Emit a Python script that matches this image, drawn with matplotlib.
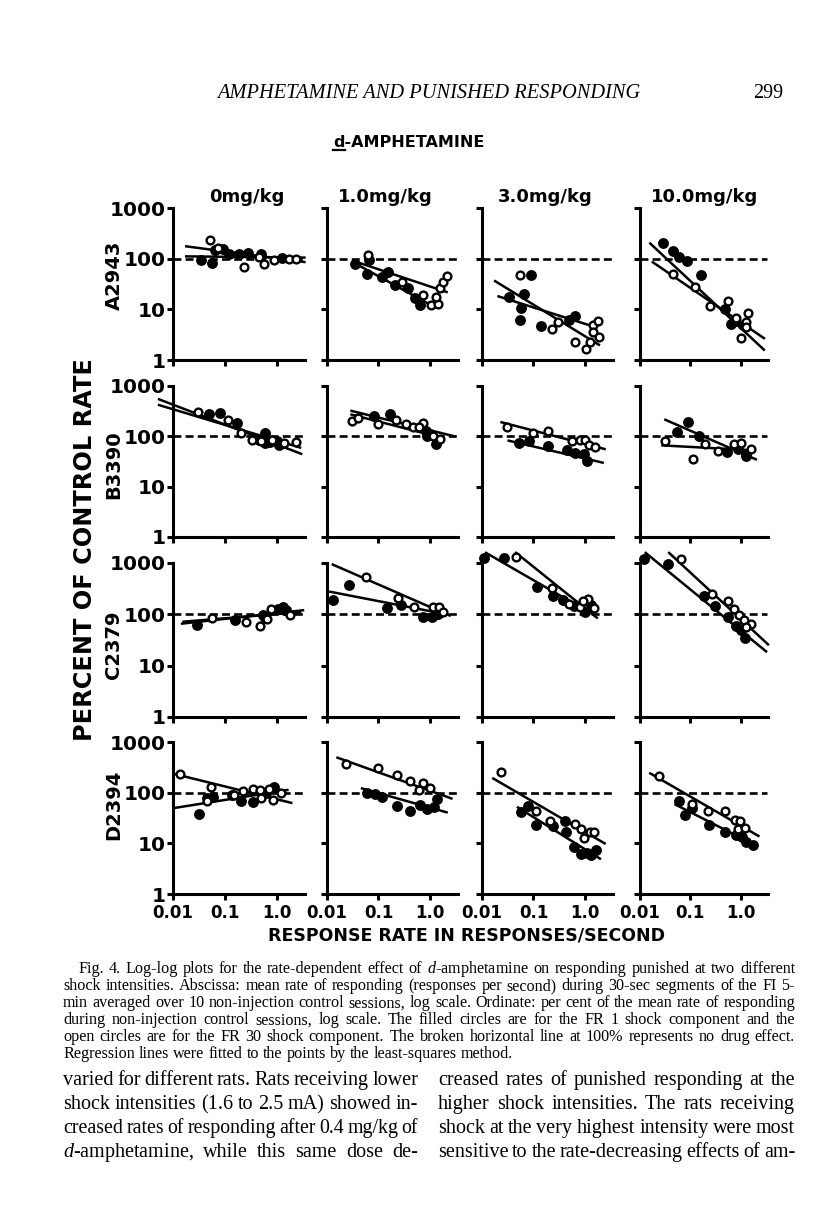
import numpy as np
import matplotlib as mpl
mpl.use('Agg')
import matplotlib.pyplot as plt
from matplotlib.ticker import FixedLocator, FixedFormatter, NullLocator

plt.rcParams['mathtext.fontset'] = 'custom'
plt.rcParams['mathtext.it'] = 'Liberation Serif:italic'
plt.rcParams['mathtext.rm'] = 'Liberation Serif'

# ---- data: (rate resp/sec, % of control) ----
# filled = FR 1 shock component, open = FR 30 shock component
# lines: ((x1, y1, x2, y2) filled, (x1, y1, x2, y2) open)
rats = ['A2943', 'B3390', 'C2379', 'D2394']
doses = ['0mg/kg', '1.0mg/kg', '3.0mg/kg', '10.0mg/kg']

a0_f = [(0.035, 95), (0.057, 82), (0.065, 150), (0.09, 158), (0.12, 125), (0.19, 125), (0.28, 130), (0.5, 125), (1.25, 102)]
a0_o = [(0.051, 229), (0.075, 160), (0.23, 67), (0.58, 80), (0.9, 96), (1.7, 98), (2.4, 100), (0.45, 110)]
a0_l = [(0.018, 111, 3.4, 105), (0.018, 175, 3.4, 86)]

a1_f = [(0.035, 79), (0.065, 93), (0.06, 50), (0.116, 44), (0.155, 55), (0.21, 30), (0.38, 26), (0.51, 17), (0.64, 12.3)]
a1_o = [(0.062, 120), (0.28, 34), (0.74, 19), (1.07, 12), (1.4, 13), (1.33, 17.5), (1.55, 26), (1.8, 35), (2.1, 45)]
a1_l = [(0.041, 74, 1.25, 11), (0.035, 88, 2.1, 22)]

a2_f = [(0.09, 47), (0.034, 17.5), (0.066, 20), (0.058, 10.5), (0.055, 6.2), (0.139, 4.7), (0.48, 6.2), (0.64, 7.4)]
a2_o = [(0.055, 47), (0.23, 4), (0.3, 5.5), (0.63, 2.3), (1.07, 1.66), (1.25, 2.3), (1.45, 5.0), (1.8, 5.9), (1.4, 3.6), (1.9, 2.9)]
a2_l = [(0.021, 18, 1.35, 4.7), (0.018, 36, 1.86, 2.0)]

a3_f = [(0.029, 204), (0.046, 144), (0.06, 107), (0.087, 92), (0.16, 47), (0.48, 10), (0.63, 5.1), (0.78, 6), (1.1, 5)]
a3_o = [(0.046, 50), (0.126, 28), (0.245, 11.5), (0.55, 14.5), (0.8, 6.8), (1.02, 2.7), (1.25, 5.7), (1.38, 8.6), (1.3, 4.5)]
a3_l = [(0.016, 199, 2.9, 1.6), (0.018, 85, 2.9, 2.7)]

b0_f = [(0.049, 277), (0.08, 287), (0.175, 185), (0.45, 86), (0.59, 117), (0.6, 74), (1.0, 80), (1.1, 67), (0.75, 78)]
b0_o = [(0.031, 300), (0.113, 210), (0.2, 117), (0.34, 86), (0.8, 86), (1.35, 74), (2.3, 78), (0.5, 80)]
b0_l = [(0.0054, 543, 2.95, 45), (0.0054, 418, 2.8, 60)]

b1_f = [(0.083, 250), (0.167, 272), (0.83, 128), (0.88, 100), (1.3, 72), (1.0, 110)]
b1_o = [(0.03, 202), (0.04, 230), (0.1, 173), (0.214, 210), (0.34, 173), (0.46, 154), (0.74, 186), (1.15, 100), (1.57, 89), (0.6, 150)]
b1_l = [(0.03, 320, 3.0, 100), (0.03, 270, 1.6, 95)]

b2_f = [(0.052, 73), (0.081, 79), (0.19, 63), (0.45, 53), (0.65, 47), (0.95, 45), (1.08, 32)]
b2_o = [(0.03, 155), (0.1, 115), (0.19, 129), (0.56, 82), (0.8, 86), (1.0, 86), (1.2, 68), (1.6, 60)]
b2_l = [(0.033, 82, 2.2, 30), (0.024, 190, 2.4, 56)]

b3_f = [(0.054, 120), (0.089, 190), (0.15, 100), (0.54, 48), (0.88, 55), (1.26, 40), (1.3, 45)]
b3_o = [(0.032, 81), (0.115, 35), (0.2, 71), (0.35, 50), (0.75, 72), (1.0, 75), (1.63, 55)]
b3_l = [(0.032, 213, 2.0, 35), (0.028, 66, 1.64, 53)]

c0_f = [(0.029, 63), (0.16, 76), (0.55, 95), (0.6, 85), (1.07, 129), (1.32, 138), (1.5, 120)]
c0_o = [(0.056, 85), (0.25, 72), (0.47, 60), (0.79, 129), (1.78, 95), (0.65, 80)]
c0_l = [(0.015, 66, 3.2, 120), (0.016, 72, 2.8, 110)]

c1_f = [(0.013, 190), (0.027, 378), (0.145, 130), (0.27, 155), (0.74, 89), (1.1, 90), (1.4, 100)]
c1_o = [(0.058, 545), (0.235, 210), (0.48, 139), (1.15, 139), (1.5, 139), (1.8, 110)]
c1_l = [(0.0116, 275, 1.8, 103), (0.013, 930, 2.4, 95)]

c2_f = [(0.011, 1240), (0.027, 1240), (0.115, 346), (0.24, 225), (0.38, 190), (0.6, 148), (1.0, 112), (1.3, 150)]
c2_o = [(0.046, 1290), (0.23, 330), (0.48, 160), (0.8, 140), (1.17, 200), (1.5, 131), (0.9, 180)]
c2_l = [(0.012, 1575, 1.0, 122), (0.046, 1575, 1.7, 86)]

c3_f = [(0.012, 1200), (0.036, 950), (0.19, 230), (0.31, 146), (0.55, 89), (0.8, 60), (1.0, 50), (1.2, 35)]
c3_o = [(0.066, 1170), (0.275, 250), (0.55, 178), (0.74, 126), (0.93, 96), (1.17, 76), (1.58, 66), (1.25, 56)]
c3_l = [(0.013, 1570, 3.2, 19), (0.038, 1570, 3.5, 26)]

d0_f = [(0.032, 38), (0.046, 77), (0.058, 83), (0.14, 90), (0.2, 69), (0.35, 64), (0.63, 97), (0.9, 131)]
d0_o = [(0.0135, 238), (0.053, 127), (0.045, 70), (0.15, 88), (0.22, 110), (0.35, 117), (0.47, 112), (0.72, 120), (0.83, 72), (0.5, 78), (1.2, 100)]
d0_l = [(0.0108, 50, 1.6, 113), (0.0108, 233, 1.9, 63)]

d1_f = [(0.06, 97), (0.086, 94), (0.116, 83), (0.23, 55), (0.41, 44), (0.64, 57), (0.86, 47), (1.35, 74), (1.18, 52)]
d1_o = [(0.023, 375), (0.1, 300), (0.23, 222), (0.41, 170), (0.72, 158), (0.6, 113), (1.02, 125)]
d1_l = [(0.048, 121, 2.1, 41), (0.016, 490, 2.6, 77)]

d2_f = [(0.057, 41), (0.077, 54), (0.11, 23), (0.24, 22), (0.41, 28), (0.42, 17), (0.61, 8.5), (0.85, 6.3), (1.1, 6.5), (1.65, 7.4), (1.3, 6.0)]
d2_o = [(0.023, 256), (0.11, 43), (0.21, 28), (0.63, 24), (0.85, 19), (0.97, 12.6), (1.23, 17), (1.5, 17)]
d2_l = [(0.05, 51, 1.95, 5.0), (0.0166, 190, 2.4, 10)]

d3_f = [(0.06, 68), (0.077, 36), (0.11, 50), (0.23, 23), (0.48, 17), (0.82, 14.5), (1.05, 13.4), (1.3, 10.7), (1.8, 9.1)]
d3_o = [(0.024, 217), (0.107, 61), (0.22, 44), (0.48, 43), (0.78, 29), (0.98, 27), (0.9, 19), (1.2, 20)]
d3_l = [(0.051, 58, 1.45, 10.7), (0.016, 240, 2.26, 14)]

grid = [
    [(a0_f, a0_o, a0_l), (a1_f, a1_o, a1_l), (a2_f, a2_o, a2_l), (a3_f, a3_o, a3_l)],
    [(b0_f, b0_o, b0_l), (b1_f, b1_o, b1_l), (b2_f, b2_o, b2_l), (b3_f, b3_o, b3_l)],
    [(c0_f, c0_o, c0_l), (c1_f, c1_o, c1_l), (c2_f, c2_o, c2_l), (c3_f, c3_o, c3_l)],
    [(d0_f, d0_o, d0_l), (d1_f, d1_o, d1_l), (d2_f, d2_o, d2_l), (d3_f, d3_o, d3_l)],
]

xticks = [0.01, 0.1, 1.0]
xticklabels = ['0.01', '0.1', '1.0']
yticks = [1, 10, 100, 1000]
yticklabels = ['1', '10', '100', '1000']

caption = [
    "Fig. 4. Log-log plots for the rate-dependent effect of $d$-amphetamine on responding punished at two different",
    "shock intensities. Abscissa: mean rate of responding (responses per second) during 30-sec segments of the FI 5-",
    "min averaged over 10 non-injection control sessions, log scale. Ordinate: per cent of the mean rate of responding",
    "during non-injection control sessions, log scale. The filled circles are for the FR 1 shock component and the",
    "open circles are for the FR 30 shock component. The broken horizontal line at 100% represents no drug effect.",
    "Regression lines were fitted to the points by the least-squares method.",
]
body_left = [
    "varied for different rats. Rats receiving lower",
    "shock intensities (1.6 to 2.5 mA) showed in-",
    "creased rates of responding after 0.4 mg/kg of",
    "$d$-amphetamine, while this same dose de-",
]
body_right = [
    "creased rates of punished responding at the",
    "higher shock intensities. The rats receiving",
    "shock at the very highest intensity were most",
    "sensitive to the rate-decreasing effects of am-",
]

# ---- figure ----
W, H = 816, 1207
fig = plt.figure(figsize=(W / 100, H / 100), dpi=100)
renderer = fig.canvas.get_renderer()

cols = [(173, 132), (327, 131), (482, 131), (640, 128)]
rows = [(208, 360), (386, 537), (563, 717), (742, 894)]
bold = dict(fontweight='bold', family='DejaVu Sans')

for r, (top, bot) in enumerate(rows):
    for c, (left, wid) in enumerate(cols):
        ax = fig.add_axes([left / W, 1 - bot / H, wid / W, (bot - top) / H])
        filled, opn, lines = grid[r][c]
        ax.set_xscale('log')
        ax.set_yscale('log')
        ax.plot([0.01, 3.3], [100, 100], color='k', lw=1.9, ls=(0, (3, 1.6)), zorder=2)
        for x1, y1, x2, y2 in lines:
            ax.plot([x1, x2], [y1, y2], color='k', lw=1.8, clip_on=False, zorder=3)
        fx, fy = zip(*filled)
        ox, oy = zip(*opn)
        ax.plot(fx, fy, 'o', ms=6.8, color='k', clip_on=False, zorder=4)
        ax.plot(ox, oy, 'o', ms=5.6, mfc='white', mec='k', mew=1.7, clip_on=False, zorder=5)
        ax.set_xlim(0.01, 3.5)
        ax.set_ylim(1, 1000)
        for s in ['top', 'right']:
            ax.spines[s].set_visible(False)
        for s in ['left', 'bottom']:
            ax.spines[s].set_linewidth(2.2)
        ax.xaxis.set_major_locator(FixedLocator(xticks))
        ax.yaxis.set_major_locator(FixedLocator(yticks))
        ax.xaxis.set_minor_locator(NullLocator())
        ax.yaxis.set_minor_locator(NullLocator())
        ax.tick_params(length=4, width=2.2)
        ax.tick_params(axis='y', pad=1)
        ax.tick_params(axis='x', pad=3.5)
        if c == 0:
            ax.yaxis.set_major_formatter(FixedFormatter(yticklabels))
            for lab in ax.get_yticklabels():
                lab.set_fontsize(14.5)
                lab.set_fontweight('bold')
        else:
            ax.set_yticklabels([])
        if r == 3:
            ax.xaxis.set_major_formatter(FixedFormatter(xticklabels))
            for lab in ax.get_xticklabels():
                lab.set_fontsize(12)
                lab.set_fontweight('bold')
        else:
            ax.set_xticklabels([])

title_x = [247, 385, 545, 705]
for d, x in zip(doses, title_x):
    fig.text(x / W, 1 - 197 / H, d, ha='center', va='center', fontsize=13, **bold)

rat_y = [275, 465, 645, 805]
for name, y in zip(rats, rat_y):
    fig.text(114 / W, 1 - y / H, name, ha='center', va='center', rotation=90, fontsize=14, **bold)

fig.text(85 / W, 1 - 550 / H, 'PERCENT OF CONTROL RATE', ha='center', va='center',
         rotation=90, fontsize=17.3, **bold)
fig.text(467 / W, 1 - 936 / H, 'RESPONSE RATE IN RESPONSES/SECOND', ha='center', va='center',
         fontsize=12.5, **bold)

# heading with underlined d
head = fig.text(333 / W, 1 - 147 / H, 'd-AMPHETAMINE', ha='left', va='baseline', fontsize=11.5, **bold)
dtxt = fig.text(0, 0, 'd', fontsize=11.5, **bold)
dw = dtxt.get_window_extent(renderer).width
dtxt.remove()
fig.add_artist(plt.Line2D([333 / W, (333 + dw) / W], [1 - 150 / H, 1 - 150 / H],
                          color='k', lw=1.6, transform=fig.transFigure))

# running header
fig.text(429 / W, 1 - 98 / H, 'AMPHETAMINE AND PUNISHED RESPONDING', ha='center', va='baseline',
         fontsize=14.7, family='Liberation Serif', style='italic')
fig.text(783 / W, 1 - 98 / H, '299', ha='right', va='baseline', fontsize=14.5, family='Liberation Serif')


def put_line(line, x0, x1, y, size, justify=True):
    words = line.split(' ')
    while True:
        items = []
        for w in words:
            t = fig.text(0, 1 - y / H, w, fontsize=size, va='baseline', family='Liberation Serif')
            items.append((t, t.get_window_extent(renderer).width))
        total = sum(wd for _, wd in items)
        space = size * 100 / 72 * 0.25
        if justify and len(items) > 1:
            gap = (x1 - x0 - total) / (len(items) - 1)
        else:
            gap = space
        if gap >= 0.6 * space or size < 6:
            break
        for t, _ in items:
            t.remove()
        size -= 0.2
    x = x0
    for t, wd in items:
        t.set_x(x / W)
        x += wd + gap


for i, line in enumerate(caption):
    x0 = 78 if i == 0 else 63
    put_line(line, x0, 795, 973 + i * 17.1, 11.6, justify=(i < len(caption) - 1))

for i, line in enumerate(body_left):
    put_line(line, 63, 418, 1085 + i * 24, 14.5)
for i, line in enumerate(body_right):
    put_line(line, 438, 795, 1085 + i * 24, 14.5)

fig.savefig('out.png', dpi=100)
